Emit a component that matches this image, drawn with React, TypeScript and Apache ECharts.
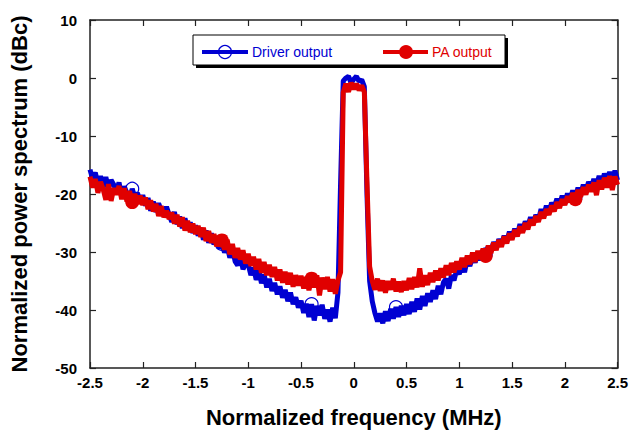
import React, { useEffect, useRef } from "react";
import * as echarts from "echarts";

// Frequency grid: -2.5 .. 2.5 MHz in 0.025 steps (201 points)
const freqStart = -2.5;
const freqStep = 0.025;

const driverOutput: number[] = [
  -15.8, -17.4, -16.3, -18.2, -16.9, -18.8, -17.1, -19.0, -17.6, -18.4,
  -19.6, -18.0, -20.2, -18.7, -19.9, -20.8, -19.1, -20.6, -19.8, -21.5,
  -20.2, -22.0, -20.7, -22.9, -21.3, -23.1, -21.6, -22.8, -23.7, -22.2,
  -23.6, -24.8, -23.1, -25.2, -23.9, -25.9, -24.2, -26.1, -24.9, -26.7,
  -25.4, -27.2, -25.9, -27.9, -26.3, -28.4, -26.8, -28.7, -27.3, -29.4,
  -28.6, -30.1, -28.9, -31.0, -29.4, -31.6, -32.3, -30.6, -33.0, -31.9,
  -32.2, -34.0, -32.7, -34.8, -33.1, -35.4, -33.9, -36.1, -34.6, -36.7,
  -35.3, -37.3, -35.9, -37.9, -36.5, -38.5, -37.0, -39.0, -37.8, -39.6,
  -38.4, -40.5, -38.9, -41.2, -39.0, -41.8, -39.3, -40.9, -39.1, -41.5,
  -39.9, -42.0, -39.6, -41.4, -37.0, -18.0, -0.5, 0.0, 0.3, -0.9,
  -0.2, 0.3, -0.6, -0.3, -1.5, -20.0, -35.0, -38.5, -40.5, -42.0,
  -40.6, -42.3, -40.2, -41.9, -39.8, -41.5, -39.5, -41.2, -39.3, -40.9,
  -39.0, -40.7, -38.6, -40.3, -38.0, -39.9, -37.6, -39.3, -37.1, -38.6,
  -36.6, -38.1, -35.8, -37.3, -35.2, -34.6, -36.3, -34.0, -34.9, -33.1,
  -33.8, -32.0, -33.5, -31.3, -32.4, -30.9, -31.8, -30.3, -31.4, -29.8,
  -30.4, -29.0, -29.9, -28.3, -29.3, -27.8, -28.7, -27.2, -28.2, -26.5,
  -27.6, -26.0, -27.1, -25.2, -26.5, -24.7, -25.6, -24.0, -25.1, -23.6,
  -24.5, -22.6, -23.8, -22.0, -23.2, -21.5, -22.3, -20.8, -21.9, -20.3,
  -21.7, -19.9, -21.0, -19.4, -20.6, -18.9, -20.1, -18.4, -19.6, -17.9,
  -19.0, -17.4, -18.6, -16.9, -18.3, -16.5, -17.8, -16.2, -17.5, -16.0, -17.6,
];

const paOutput: number[] = [
  -17.0, -18.9, -17.4, -19.8, -17.9, -19.2, -21.0, -18.3, -21.2, -19.0,
  -20.1, -18.6, -20.9, -19.0, -21.3, -19.5, -21.4, -20.0, -21.7, -20.3,
  -21.9, -20.6, -22.6, -21.1, -23.0, -21.7, -23.8, -22.1, -24.0, -22.9,
  -24.3, -23.2, -25.1, -23.6, -25.6, -24.0, -26.3, -24.6, -26.6, -25.1,
  -26.9, -25.5, -27.4, -25.8, -28.1, -26.4, -28.4, -26.9, -29.0, -27.6,
  -28.0, -29.6, -27.9, -30.4, -28.6, -31.0, -29.3, -31.3, -29.7, -32.0,
  -30.3, -32.4, -30.8, -33.0, -31.2, -33.6, -31.7, -34.0, -32.2, -34.3,
  -32.6, -34.9, -33.0, -35.3, -33.4, -35.6, -33.6, -36.0, -34.0, -35.8,
  -34.1, -36.3, -34.3, -36.6, -34.6, -36.1, -34.0, -37.5, -34.4, -36.4,
  -34.3, -36.8, -34.7, -37.2, -34.9, -33.5, -2.5, -1.0, -2.4, -0.8,
  -1.9, -1.0, -2.1, -1.3, -2.4, -18.0, -32.5, -35.0, -36.5, -34.6,
  -36.7, -34.9, -37.0, -35.0, -36.5, -34.6, -36.8, -35.1, -36.9, -35.0,
  -36.6, -34.5, -36.4, -34.3, -36.1, -32.8, -36.0, -34.0, -35.7, -33.6,
  -35.2, -33.2, -34.9, -32.8, -34.4, -32.3, -34.0, -31.9, -33.5, -31.6,
  -33.0, -31.0, -32.6, -30.6, -32.1, -30.1, -31.7, -29.8, -31.2, -29.4,
  -30.7, -28.9, -30.2, -28.4, -29.7, -27.9, -29.1, -27.3, -28.5, -26.8,
  -27.9, -26.2, -27.3, -25.6, -26.7, -25.0, -26.1, -24.4, -25.4, -23.8,
  -24.8, -23.1, -24.2, -22.6, -23.6, -22.0, -23.0, -21.4, -22.4, -20.9,
  -21.9, -20.4, -21.4, -19.8, -20.9, -19.3, -20.5, -18.8, -20.1, -18.4,
  -19.6, -18.0, -20.2, -17.6, -19.2, -17.2, -18.9, -16.9, -19.3, -17.0, -18.4,
];

// Sample indices carrying markers
const driverMarkerIdx = [16, 50, 84, 116, 150, 184];
const paMarkerIdx = [16, 50, 84, 150, 184];

const xTicks = { min: -2.5, max: 2.5, interval: 0.5 };
const yTicks = { min: -50, max: 10, interval: 10 };

const seriesNames = ["Driver output", "PA output"];
const BLUE = "#0000d2";
const RED = "#e00000";
const FONT = "'Liberation Sans', Arial, Helvetica, sans-serif";

export default function App() {
  const ref = useRef<HTMLDivElement>(null);

  useEffect(() => {
    if (!ref.current) return;
    const chart = echarts.init(ref.current, undefined, { renderer: "svg" });

    const driverData = driverOutput.map((v, i) => {
      const x = +(freqStart + i * freqStep).toFixed(3);
      if (driverMarkerIdx.includes(i)) {
        return {
          value: [x, v],
          symbol: "circle",
          symbolSize: 13,
          itemStyle: { color: "rgba(0,0,0,0)", borderColor: BLUE, borderWidth: 1.2 },
        };
      }
      return { value: [x, v], symbol: "none" };
    });
    const paData = paOutput.map((v, i) => {
      const x = +(freqStart + i * freqStep).toFixed(3);
      if (paMarkerIdx.includes(i)) {
        return { value: [x, v], symbol: "circle", symbolSize: 14, itemStyle: { color: RED } };
      }
      return { value: [x, v], symbol: "none" };
    });

    const axisLine = { show: true, onZero: false, lineStyle: { color: "#222", width: 1.5 } };
    const axisTick = { show: true, inside: true, length: 6, lineStyle: { color: "#222", width: 1.2 } };
    const labelStyle = { color: "#000", fontFamily: FONT, fontWeight: "bold" as const, fontSize: 15 };
    const nameStyle = { color: "#000", fontFamily: FONT, fontWeight: "bold" as const, fontSize: 22 };

    const legendY = 52;

    chart.setOption({
      animation: false,
      backgroundColor: "#fff",
      grid: { left: 83, right: 13, top: 20, bottom: 59, containLabel: false },
      xAxis: [
        {
          type: "value",
          ...xTicks,
          position: "bottom",
          axisLine,
          axisTick,
          splitLine: { show: false },
          axisLabel: { ...labelStyle, margin: 7 },
          name: "Normalized frequency (MHz)",
          nameLocation: "middle",
          nameGap: 38,
          nameTextStyle: nameStyle,
        },
        {
          type: "value",
          ...xTicks,
          position: "top",
          axisLine,
          axisTick,
          splitLine: { show: false },
          axisLabel: { show: false },
        },
      ],
      yAxis: [
        {
          type: "value",
          ...yTicks,
          position: "left",
          axisLine,
          axisTick,
          splitLine: { show: false },
          axisLabel: { ...labelStyle, margin: 13 },
          name: "Normalized power spectrum (dBc)",
          nameLocation: "middle",
          nameGap: 60,
          nameTextStyle: nameStyle,
        },
        {
          type: "value",
          ...yTicks,
          position: "right",
          axisLine,
          axisTick,
          splitLine: { show: false },
          axisLabel: { show: false },
        },
      ],
      series: [
        {
          name: seriesNames[0],
          type: "line",
          data: driverData,
          showSymbol: true,
          lineStyle: { color: BLUE, width: 5 },
          itemStyle: { color: BLUE },
          z: 2,
        },
        {
          name: seriesNames[1],
          type: "line",
          data: paData,
          showSymbol: true,
          lineStyle: { color: RED, width: 5 },
          itemStyle: { color: RED },
          z: 3,
        },
      ],
      graphic: [
        { type: "rect", shape: { x: 196, y: 38, width: 312, height: 30 }, style: { fill: "#000" }, z: 10 },
        { type: "rect", shape: { x: 193, y: 35, width: 312, height: 30 }, style: { fill: "#fff", stroke: "#000", lineWidth: 1 }, z: 11 },
        { type: "line", shape: { x1: 202, y1: legendY, x2: 248, y2: legendY }, style: { stroke: BLUE, lineWidth: 4 }, z: 12 },
        { type: "circle", shape: { cx: 225, cy: legendY, r: 6.5 }, style: { fill: "none", stroke: BLUE, lineWidth: 1.2 }, z: 13 },
        {
          type: "text", x: 252, y: legendY, z: 13,
          style: { text: seriesNames[0], fill: BLUE, font: `14px ${FONT}`, verticalAlign: "middle", align: "left" },
        },
        { type: "line", shape: { x1: 383, y1: legendY, x2: 428, y2: legendY }, style: { stroke: RED, lineWidth: 4 }, z: 12 },
        { type: "circle", shape: { cx: 406, cy: legendY, r: 7 }, style: { fill: RED }, z: 13 },
        {
          type: "text", x: 432, y: legendY, z: 13,
          style: { text: seriesNames[1], fill: RED, font: `14px ${FONT}`, verticalAlign: "middle", align: "left" },
        },
      ],
    });

    return () => chart.dispose();
  }, []);

  return (
    <div
      ref={ref}
      style={{ position: "absolute", left: 0, top: 0, width: 631, height: 433 }}
    />
  );
}
